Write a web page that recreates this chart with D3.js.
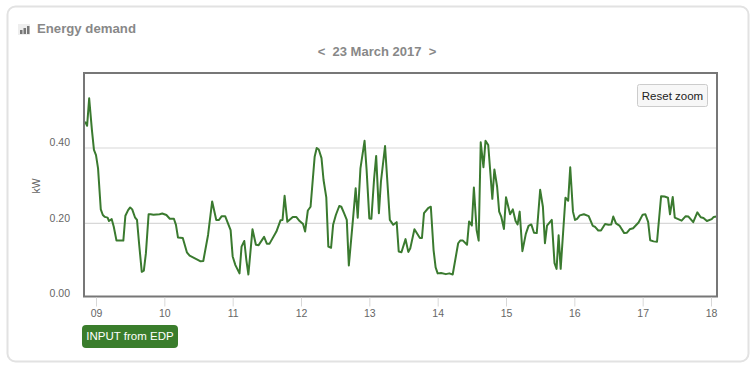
<!DOCTYPE html>
<html>
<head>
<meta charset="utf-8">
<script src="https://cdn.jsdelivr.net/npm/d3@7"></script>
<style>
  html, body { margin: 0; padding: 0; background: #fff; }
  svg { display: block; font-family: "Liberation Sans", Arial, sans-serif; }
  .axis path { display: none; }
  .axis text { fill: #666; font-size: 10.5px; }
</style>
</head>
<body>
<div id="chart"></div>
<script>
const hours = [8.84,8.87,8.90,8.94,8.97,9.00,9.03,9.07,9.10,9.13,9.17,9.19,9.23,9.26,9.30,9.40,9.43,9.47,9.50,9.53,9.57,9.60,9.63,9.67,9.70,9.73,9.77,9.80,9.84,9.93,9.97,10.03,10.08,10.14,10.17,10.20,10.27,10.33,10.37,10.49,10.53,10.57,10.64,10.70,10.76,10.80,10.84,10.89,10.97,11.00,11.04,11.10,11.13,11.17,11.20,11.23,11.29,11.34,11.38,11.46,11.50,11.54,11.64,11.70,11.73,11.76,11.80,11.88,11.93,11.98,12.03,12.06,12.10,12.14,12.20,12.23,12.26,12.30,12.33,12.37,12.40,12.44,12.47,12.51,12.56,12.59,12.63,12.67,12.70,12.76,12.80,12.83,12.87,12.93,12.96,13.00,13.03,13.07,13.10,13.14,13.17,13.23,13.30,13.35,13.40,13.43,13.47,13.53,13.57,13.60,13.66,13.74,13.77,13.80,13.86,13.90,13.94,13.97,14.00,14.05,14.12,14.17,14.22,14.30,14.33,14.37,14.43,14.46,14.50,14.53,14.57,14.60,14.63,14.67,14.70,14.74,14.80,14.83,14.87,14.90,14.93,14.97,15.00,15.06,15.10,15.14,15.17,15.20,15.24,15.29,15.33,15.37,15.41,15.45,15.50,15.54,15.57,15.60,15.67,15.71,15.74,15.77,15.80,15.87,15.91,15.94,15.98,16.01,16.04,16.08,16.14,16.21,16.27,16.30,16.35,16.39,16.45,16.50,16.54,16.57,16.61,16.66,16.73,16.77,16.81,16.86,16.94,17.00,17.04,17.08,17.11,17.16,17.21,17.27,17.32,17.37,17.40,17.44,17.47,17.57,17.63,17.67,17.74,17.80,17.85,17.89,17.94,18.01,18.04,18.08];
const demandKw = [.470,.459,.532,.448,.395,.381,.346,.237,.222,.217,.215,.206,.211,.191,.154,.154,.220,.235,.242,.237,.216,.209,.147,.071,.074,.120,.224,.224,.223,.224,.226,.222,.212,.212,.196,.162,.161,.123,.114,.103,.099,.100,.169,.258,.209,.209,.219,.219,.182,.112,.089,.067,.138,.153,.103,.064,.184,.143,.142,.164,.146,.146,.178,.208,.209,.273,.204,.217,.217,.206,.198,.178,.234,.244,.377,.400,.396,.373,.315,.269,.138,.135,.196,.222,.246,.244,.227,.209,.088,.209,.293,.215,.346,.419,.342,.213,.212,.319,.379,.227,.311,.405,.209,.196,.203,.125,.123,.158,.124,.134,.184,.161,.161,.227,.240,.244,.129,.083,.067,.068,.065,.067,.064,.147,.154,.154,.143,.205,.194,.295,.182,.154,.415,.349,.419,.408,.265,.343,.297,.231,.218,.185,.269,.224,.237,.206,.197,.231,.126,.172,.193,.197,.175,.174,.289,.244,.147,.194,.209,.094,.079,.168,.079,.268,.260,.349,.231,.209,.212,.221,.224,.219,.193,.191,.181,.181,.198,.196,.197,.218,.200,.194,.174,.175,.184,.187,.202,.223,.224,.204,.155,.152,.151,.272,.271,.268,.224,.270,.215,.207,.219,.218,.203,.229,.216,.214,.206,.211,.217,.218];
const xTicks = [9,10,11,12,13,14,15,16,17,18];
const yTicks = [0,0.2,0.4];

const width = 756, height = 370;
const plot = { left: 84, right: 717, top: 73, bottom: 296.5 };

const svg = d3.select("#chart").append("svg")
    .attr("width", width)
    .attr("height", height);

// outer panel
svg.append("rect")
    .attr("x", 7.5).attr("y", 6.5)
    .attr("width", 741).attr("height", 355)
    .attr("rx", 8)
    .attr("fill", "#fff")
    .attr("stroke", "#e2e2e2")
    .attr("stroke-width", 2);

// little bar icon next to the title
const icon = svg.append("g").attr("transform", "translate(18,24)");
icon.append("rect").attr("width", 12).attr("height", 11).attr("fill", "#eee");
[[2, 6, 4], [5.5, 4, 6], [9, 2, 8]].forEach(b => {
  icon.append("rect").attr("x", b[0]).attr("y", b[1]).attr("width", 2.5).attr("height", b[2]).attr("fill", "#777");
});

svg.append("text")
    .attr("x", 37).attr("y", 33)
    .attr("font-size", 13.2).attr("font-weight", "bold").attr("fill", "#888")
    .text("Energy demand");

svg.append("text")
    .attr("x", 377).attr("y", 56)
    .attr("text-anchor", "middle")
    .attr("font-size", 13).attr("font-weight", "bold").attr("fill", "#888")
    .attr("xml:space", "preserve")
    .style("white-space", "pre")
    .text("<  23 March 2017  >");

const x = d3.scaleLinear()
    .domain([9, 18])
    .range([96, 711]);

const y = d3.scaleLinear()
    .domain([0, 0.4])
    .range([298.6, 148]);

svg.append("defs").append("clipPath").attr("id", "plot-clip")
  .append("rect")
    .attr("x", plot.left).attr("y", plot.top)
    .attr("width", plot.right - plot.left)
    .attr("height", plot.bottom - plot.top);

// grid lines
svg.append("g")
    .attr("clip-path", "url(#plot-clip)")
  .selectAll("line")
  .data(yTicks)
  .join("line")
    .attr("x1", plot.left).attr("x2", plot.right)
    .attr("y1", d => y(d)).attr("y2", d => y(d))
    .attr("stroke", "#d8d8d8")
    .attr("stroke-width", 1.2);

const line = d3.line()
    .x(d => x(d[0]))
    .y(d => y(d[1]));

svg.append("path")
    .datum(d3.zip(hours, demandKw))
    .attr("clip-path", "url(#plot-clip)")
    .attr("d", line)
    .attr("fill", "none")
    .attr("stroke", "#3a7a2f")
    .attr("stroke-width", 2)
    .attr("stroke-linejoin", "round");

svg.append("rect")
    .attr("x", plot.left).attr("y", plot.top)
    .attr("width", plot.right - plot.left)
    .attr("height", plot.bottom - plot.top)
    .attr("fill", "none")
    .attr("stroke", "#777")
    .attr("stroke-width", 2);

const xAxis = svg.append("g")
    .attr("class", "axis")
    .attr("transform", `translate(0,${plot.bottom + 1})`)
    .call(d3.axisBottom(x).tickValues(xTicks).tickFormat(d3.format("02d")).tickSize(9).tickPadding(3));
xAxis.selectAll("line").attr("stroke", "#d8d8d8");

const yAxis = svg.append("g")
    .attr("class", "axis")
    .attr("transform", `translate(${plot.left},0)`)
    .call(d3.axisLeft(y).tickValues(yTicks).tickFormat(d3.format(".2f")).tickSize(0).tickPadding(14));
yAxis.selectAll("text").attr("dy", "-0.2em");

svg.append("text")
    .attr("transform", "translate(40,186) rotate(-90)")
    .attr("text-anchor", "middle")
    .attr("font-size", 10.5).attr("fill", "#666")
    .text("kW");

// reset zoom button
svg.append("rect")
    .attr("x", 637.5).attr("y", 84.5)
    .attr("width", 70).attr("height", 22)
    .attr("rx", 2)
    .attr("fill", "#f7f7f7")
    .attr("stroke", "#ccc");
svg.append("text")
    .attr("x", 672.5).attr("y", 100)
    .attr("text-anchor", "middle")
    .attr("font-size", 11.5).attr("fill", "#222")
    .text("Reset zoom");

// legend button
svg.append("rect")
    .attr("x", 82).attr("y", 325)
    .attr("width", 96).attr("height", 23)
    .attr("rx", 4)
    .attr("fill", "#3a7d2c");
svg.append("text")
    .attr("x", 130).attr("y", 340)
    .attr("text-anchor", "middle")
    .attr("font-size", 11.5).attr("fill", "#fff")
    .text("INPUT from EDP");
</script>
</body>
</html>
